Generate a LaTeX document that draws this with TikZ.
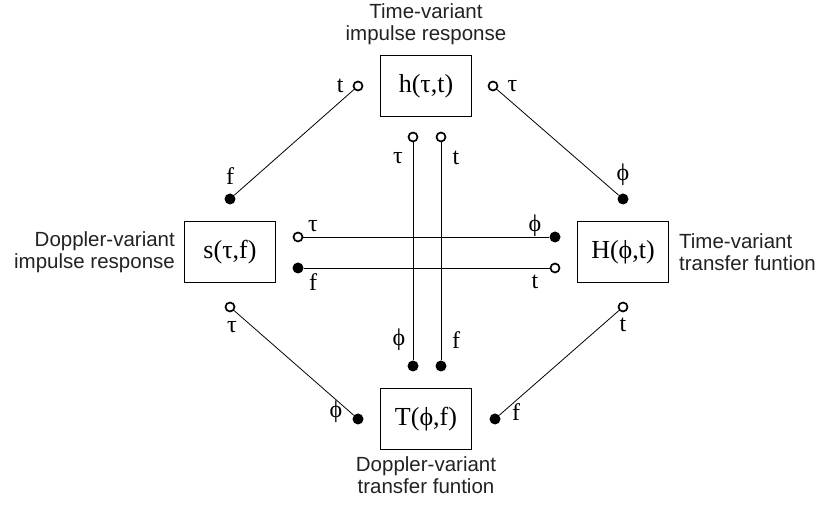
\documentclass[tikz,border=0pt]{standalone}
\usepackage{fontspec}
\setmainfont{Liberation Serif}
\newfontfamily\capfont{Liberation Sans}
\usetikzlibrary{positioning}
\definecolor{capgray}{HTML}{222222}
\tikzset{
  funcbox/.style={draw, line width=0.9pt, minimum width=91pt, minimum height=61pt, inner sep=0pt, font=\fontsize{26}{28}\selectfont},
  caption/.style={align=center, inner sep=0pt, font=\capfont\fontsize{20.5}{22}\selectfont, text=capgray},
  opendot/.style={circle, draw, fill=white, line width=1.7pt, minimum size=9pt, inner sep=0pt},
  fulldot/.style={circle, fill, minimum size=11pt, inner sep=0pt},
  varlabel/.style={inner sep=0pt, font=\fontsize{24}{26}\selectfont},
  wire/.style={line width=0.8pt}
}
\begin{document}
\begin{tikzpicture}[x=1pt, y=1pt]
  \useasboundingbox (0,0) rectangle (820,505);
  % the four functions
  \node[funcbox] (hbox) at (426,419) {h(τ,t)};
  \node[funcbox] (sbox) at (230,253) {s(τ,f)};
  \node[funcbox] (Hbox) at (623,253) {H(ϕ,t)};
  \node[funcbox] (Tbox) at (426,86) {T(ϕ,f)};
  \node[caption, above=10pt of hbox] {Time-variant\\impulse response};
  \node[caption, left=9pt of sbox, align=right] {Doppler-variant\\impulse response};
  \node[caption, right=10pt of Hbox, align=left] {Time-variant\\transfer funtion};
  \node[caption, below=7pt of Tbox] {Doppler-variant\\transfer funtion};

  % terminals
  \node[opendot] (h-t) at (358,419) {};
  \node[opendot] (h-tau) at (493,419) {};
  \node[opendot] (h-tau2) at (413,368) {};
  \node[opendot] (h-t2) at (441,368) {};
  \node[fulldot] (s-f) at (230,306) {};
  \node[opendot] (s-tau) at (298,268) {};
  \node[fulldot] (s-f2) at (298,237) {};
  \node[opendot] (s-tau2) at (230,198) {};
  \node[fulldot] (H-phi) at (623,306) {};
  \node[fulldot] (H-phi2) at (555,268) {};
  \node[opendot] (H-t) at (555,237) {};
  \node[opendot] (H-t2) at (623,198) {};
  \node[fulldot] (T-phi) at (413,139) {};
  \node[fulldot] (T-f) at (441,139) {};
  \node[fulldot] (T-phi2) at (358,86) {};
  \node[fulldot] (T-f2) at (495,86) {};

  % variable names
  \node[varlabel, left=9pt of h-t] {t};
  \node[varlabel, right=9pt of h-tau] {τ};
  \node[varlabel, above=9pt of s-f] {f};
  \node[varlabel, above=7pt of H-phi] {ϕ};
  \node[varlabel] at (313,279) {τ};
  \node[varlabel] at (313,223) {f};
  \node[varlabel] at (535,279) {ϕ};
  \node[varlabel] at (535,223) {t};
  \node[varlabel] at (398,347) {τ};
  \node[varlabel] at (456,347) {t};
  \node[varlabel] at (399,165) {ϕ};
  \node[varlabel] at (456,165) {f};
  \node[varlabel] at (232,178) {τ};
  \node[varlabel] at (623,180) {t};
  \node[varlabel] at (336,93) {ϕ};
  \node[varlabel] at (516,93) {f};

  % wires
  \draw[wire] (h-t) -- (s-f);
  \draw[wire] (h-tau) -- (H-phi);
  \draw[wire] (s-tau) -- (H-phi2);
  \draw[wire] (s-f2) -- (H-t);
  \draw[wire] (h-tau2) -- (T-phi);
  \draw[wire] (h-t2) -- (T-f);
  \draw[wire] (s-tau2) -- (T-phi2);
  \draw[wire] (H-t2) -- (T-f2);
\end{tikzpicture}
\end{document}
